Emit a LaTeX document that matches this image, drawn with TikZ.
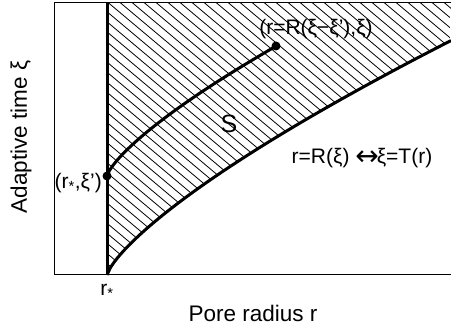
\documentclass[tikz,border=0pt]{standalone}
\usepackage{fontspec}
\setmainfont{Liberation Sans}
\newfontfamily\arrowfont{DejaVu Sans}
\usetikzlibrary{calc}
\tikzstyle{frame} = [line width=1pt]
\tikzstyle{thickline} = [line width=3pt, line join=round]
\tikzstyle{hatch} = [line width=0.8pt]
\tikzstyle{dot} = [circle, fill=black, inner sep=0pt, minimum size=9pt]
\tikzstyle{axislabel} = [font=\fontsize{22.5}{26}\selectfont, inner sep=0pt]
\tikzstyle{curvelabel} = [font=\fontsize{21}{25}\selectfont, inner sep=0pt]
\begin{document}
\begin{tikzpicture}[x=1pt, y=1pt]
    \useasboundingbox (0,0) rectangle (451,328);
    \begin{scope}
        \clip (107,325.5) -- (107,53) -- plot[domain=0.01:343, samples=100] ({107+\x}, {53+2.935*pow(\x,0.75)}) -- (451,325.5) -- cycle;
        \foreach \a in {-300,-288,...,456}
            \draw[hatch] (\a,325.5) -- ++(-40:560);
    \end{scope}
    \draw[frame] (451,325.5) -- (54,325.5) -- (54,53) -- (451,53);
    \draw[thickline] (107,53) -- (107,325.5);
    \draw[thickline] plot[domain=0.01:344, samples=100] ({107+\x}, {53+2.935*pow(\x,0.75)});
    \node (start) [dot] at (107,152) {};
    \node (tip) [dot] at (276,282) {};
    \draw[thickline] plot[domain=0.01:169, samples=80] ({107+\x}, {152+2.77*pow(\x,0.75)});
    \node (xlab) [axislabel] at (253,15) {Pore radius r};
    \node (ylab) [axislabel, rotate=90] at (21,191) {Adaptive time ξ};
    \node (rstar) [curvelabel] at (107,37) {r\textsubscript{*}};
    \node (startlab) [curvelabel, anchor=east] at (102,145) {(r\textsubscript{*},ξ')};
    \node (tiplab) [curvelabel] at (316,299) {(r=R(ξ−ξ'),ξ)};
    \node (curvelab) [curvelabel] at (362,170) {r=R(ξ) \raisebox{-2.5pt}{\arrowfont\fontsize{28}{25}\selectfont ↔}\hspace{-2pt}ξ=T(r)};
    \node (area) [font=\fontsize{25}{30}\selectfont] at (229,204) {S};
\end{tikzpicture}
\end{document}
